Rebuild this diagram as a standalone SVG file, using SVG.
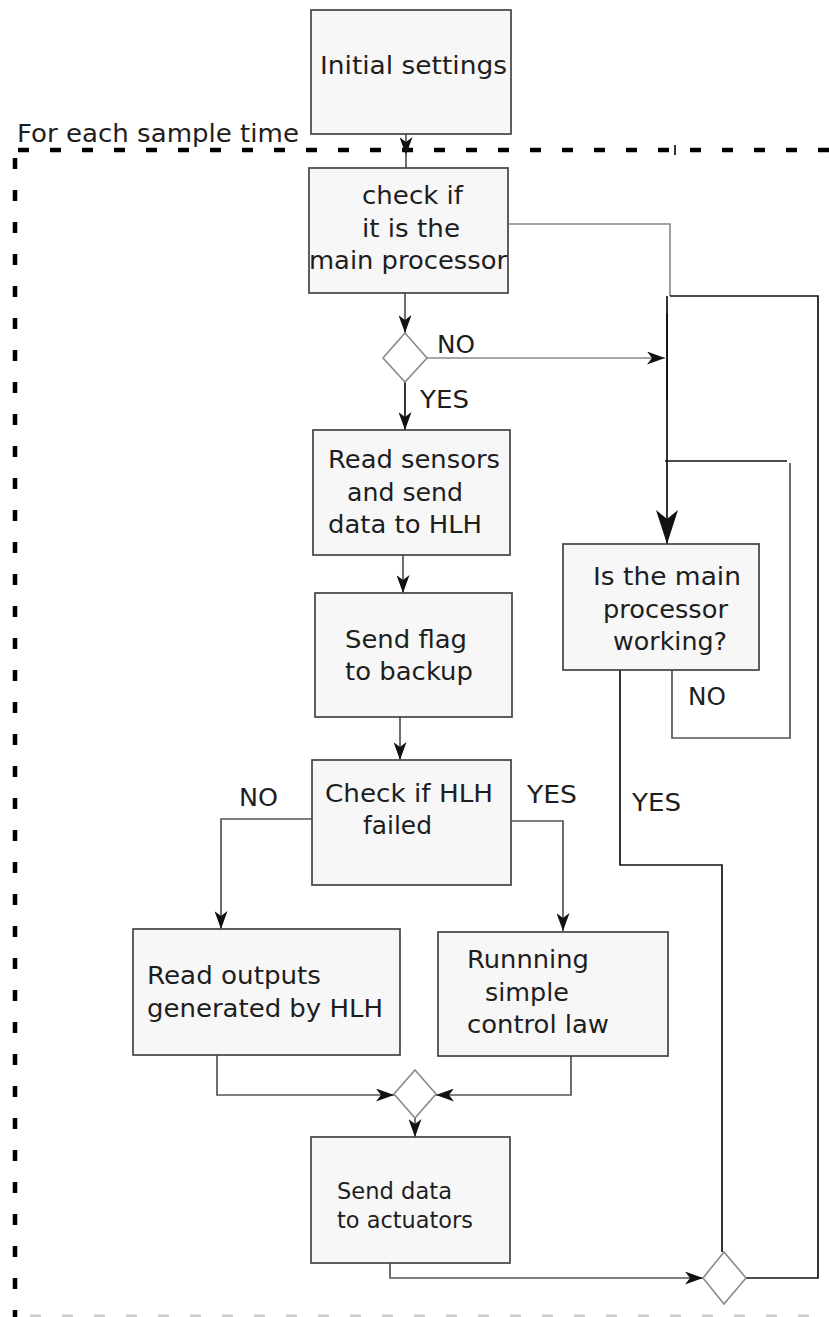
<svg xmlns="http://www.w3.org/2000/svg" width="829" height="1317" viewBox="0 0 829 1317">
  <style>
    .box { fill: #f7f7f7; stroke: #444; stroke-width: 1.7; }
    .dia { fill: #fff; stroke: #8a8a8a; stroke-width: 1.6; }
    .t { font-family: "DejaVu Sans", Verdana, sans-serif; font-size: 25px; fill: #1e1e1e; }
    .ts { font-family: "DejaVu Sans", Verdana, sans-serif; font-size: 23px; fill: #1e1e1e; }
    .lbl { font-family: "DejaVu Sans", Verdana, sans-serif; font-size: 24px; fill: #1e1e1e; }
    .c { fill: none; stroke: #555; stroke-width: 1.7; }
    .cl { fill: none; stroke: #888; stroke-width: 1.6; }
    .ck { fill: none; stroke: #111; stroke-width: 1.7; }
    .frame { fill: none; stroke: #000; stroke-width: 4.5; stroke-dasharray: 11 21; }
    .frame2 { fill: none; stroke: #ccc; stroke-width: 3; stroke-dasharray: 11 21; }
  </style>
  <defs>
    <marker id="arr" viewBox="0 0 18 13" refX="18" refY="6.5" markerWidth="18" markerHeight="13" markerUnits="userSpaceOnUse" orient="auto">
      <path d="M0,0 L18,6.5 L0,13 L5,6.5 Z" fill="#111"/>
    </marker>
    <marker id="arrBig" viewBox="0 0 34 22" refX="34" refY="11" markerWidth="34" markerHeight="22" markerUnits="userSpaceOnUse" orient="auto">
      <path d="M0,0 L34,11 L0,22 L9,11 Z" fill="#111"/>
    </marker>
  </defs>

  <!-- loop frame: one pass per sample time -->
  <g id="frame">
    <line class="frame" x1="18" y1="150" x2="829" y2="150"/>
    <line class="frame" x1="15" y1="158" x2="15" y2="1317"/>
    <line class="frame2" x1="30" y1="1316" x2="829" y2="1316"/>
    <text class="t" x="17" y="142" textLength="282" lengthAdjust="spacingAndGlyphs">For each sample time</text>
  </g>

  <g id="connectors">
    <line class="c" x1="406" y1="134" x2="406" y2="155" marker-end="url(#arr)"/>
    <line class="c" x1="406" y1="153" x2="406" y2="168"/>
    <line class="ck" x1="675" y1="145" x2="675" y2="155"/>
    <path class="cl" d="M509,224 H670 V296"/>
    <path class="ck" d="M670,296 H818 V1278 H746"/>
    <line class="c" x1="405" y1="293" x2="405" y2="333" marker-end="url(#arr)"/>
    <line class="cl" x1="427" y1="358" x2="665" y2="358" marker-end="url(#arr)"/>
    <line class="ck" x1="667" y1="296" x2="667" y2="544" marker-end="url(#arrBig)"/>
    <line class="ck" x1="667" y1="313" x2="667" y2="400" stroke-width="2.4"/>
    <line class="ck" x1="405" y1="382" x2="405" y2="430" stroke-width="2.4" marker-end="url(#arr)"/>
    <line class="c" x1="403" y1="555" x2="403" y2="593" marker-end="url(#arr)"/>
    <line class="c" x1="400" y1="717" x2="400" y2="760" marker-end="url(#arr)"/>
    <path class="c" d="M312,819 H221 V929" marker-end="url(#arr)"/>
    <path class="c" d="M511,821 H563 V931" marker-end="url(#arr)"/>
    <path class="c" d="M217,1055 V1095 H394" marker-end="url(#arr)"/>
    <path class="c" d="M571,1056 V1095 H436" marker-end="url(#arr)"/>
    <line class="c" x1="415" y1="1118" x2="415" y2="1137" marker-end="url(#arr)"/>
    <path class="c" d="M390,1263 V1278 H703" marker-end="url(#arr)"/>
    <path class="ck" d="M620,670 V865 H722 V1252"/>
    <path class="c" d="M672,670 V738 H790 V463"/>
    <line class="ck" x1="665" y1="461" x2="787" y2="461"/>
    <text class="lbl" x="437" y="353" textLength="38" lengthAdjust="spacingAndGlyphs">NO</text>
    <text class="lbl" x="420" y="408" textLength="49" lengthAdjust="spacingAndGlyphs">YES</text>
    <text class="lbl" x="688" y="705" textLength="38" lengthAdjust="spacingAndGlyphs">NO</text>
    <text class="lbl" x="632" y="811" textLength="49" lengthAdjust="spacingAndGlyphs">YES</text>
    <text class="lbl" x="239" y="806" textLength="39" lengthAdjust="spacingAndGlyphs">NO</text>
    <text class="lbl" x="527" y="803" textLength="50" lengthAdjust="spacingAndGlyphs">YES</text>
  </g>

  <g id="initial-settings">
    <rect class="box" x="311" y="10" width="200" height="124"/>
    <text class="t" x="320" y="74" textLength="187" lengthAdjust="spacingAndGlyphs">Initial settings</text>
  </g>

  <g id="check-main">
    <rect class="box" x="309" y="168" width="199" height="125"/>
    <text class="t" x="362" y="204" textLength="101" lengthAdjust="spacingAndGlyphs">check if</text>
    <text class="t" x="362" y="237" textLength="98" lengthAdjust="spacingAndGlyphs">it is the</text>
    <text class="t" x="309" y="269" textLength="198" lengthAdjust="spacingAndGlyphs">main processor</text>
  </g>

  <g id="decision-main">
    <polygon class="dia" points="405,333 427,358 405,382 383,358"/>
  </g>

  <g id="read-sensors">
    <rect class="box" x="313" y="430" width="197" height="125"/>
    <text class="t" x="328" y="468" textLength="172" lengthAdjust="spacingAndGlyphs">Read sensors</text>
    <text class="t" x="347" y="501" textLength="116" lengthAdjust="spacingAndGlyphs">and send</text>
    <text class="t" x="328" y="533" textLength="154" lengthAdjust="spacingAndGlyphs">data to HLH</text>
  </g>

  <g id="send-flag">
    <rect class="box" x="315" y="593" width="197" height="124"/>
    <text class="t" x="345" y="648" textLength="122" lengthAdjust="spacingAndGlyphs">Send flag</text>
    <text class="t" x="345" y="680" textLength="128" lengthAdjust="spacingAndGlyphs">to backup</text>
  </g>

  <g id="check-hlh">
    <rect class="box" x="312" y="760" width="199" height="125"/>
    <text class="t" x="325" y="802" textLength="168" lengthAdjust="spacingAndGlyphs">Check if HLH</text>
    <text class="t" x="363" y="834" textLength="69" lengthAdjust="spacingAndGlyphs">failed</text>
  </g>

  <g id="read-outputs">
    <rect class="box" x="133" y="929" width="267" height="126"/>
    <text class="t" x="147" y="984" textLength="174" lengthAdjust="spacingAndGlyphs">Read outputs</text>
    <text class="t" x="147" y="1017" textLength="236" lengthAdjust="spacingAndGlyphs">generated by HLH</text>
  </g>

  <g id="simple-law">
    <rect class="box" x="438" y="932" width="230" height="124"/>
    <text class="t" x="467" y="968" textLength="122" lengthAdjust="spacingAndGlyphs">Runnning</text>
    <text class="t" x="485" y="1001" textLength="84" lengthAdjust="spacingAndGlyphs">simple</text>
    <text class="t" x="467" y="1033" textLength="142" lengthAdjust="spacingAndGlyphs">control law</text>
  </g>

  <g id="merge">
    <polygon class="dia" points="415,1070 436,1094 415,1118 394,1094"/>
  </g>

  <g id="send-data">
    <rect class="box" x="311" y="1137" width="199" height="126"/>
    <text class="ts" x="337" y="1199" textLength="115" lengthAdjust="spacingAndGlyphs">Send data</text>
    <text class="ts" x="337" y="1228" textLength="136" lengthAdjust="spacingAndGlyphs">to actuators</text>
  </g>

  <g id="is-main-working">
    <rect class="box" x="563" y="544" width="196" height="126"/>
    <text class="t" x="593" y="585" textLength="148" lengthAdjust="spacingAndGlyphs">Is the main</text>
    <text class="t" x="603" y="618" textLength="125" lengthAdjust="spacingAndGlyphs">processor</text>
    <text class="t" x="613" y="650" textLength="114" lengthAdjust="spacingAndGlyphs">working?</text>
  </g>

  <g id="end-merge">
    <polygon class="dia" points="724,1252 746,1278 724,1304 703,1278"/>
  </g>
</svg>
